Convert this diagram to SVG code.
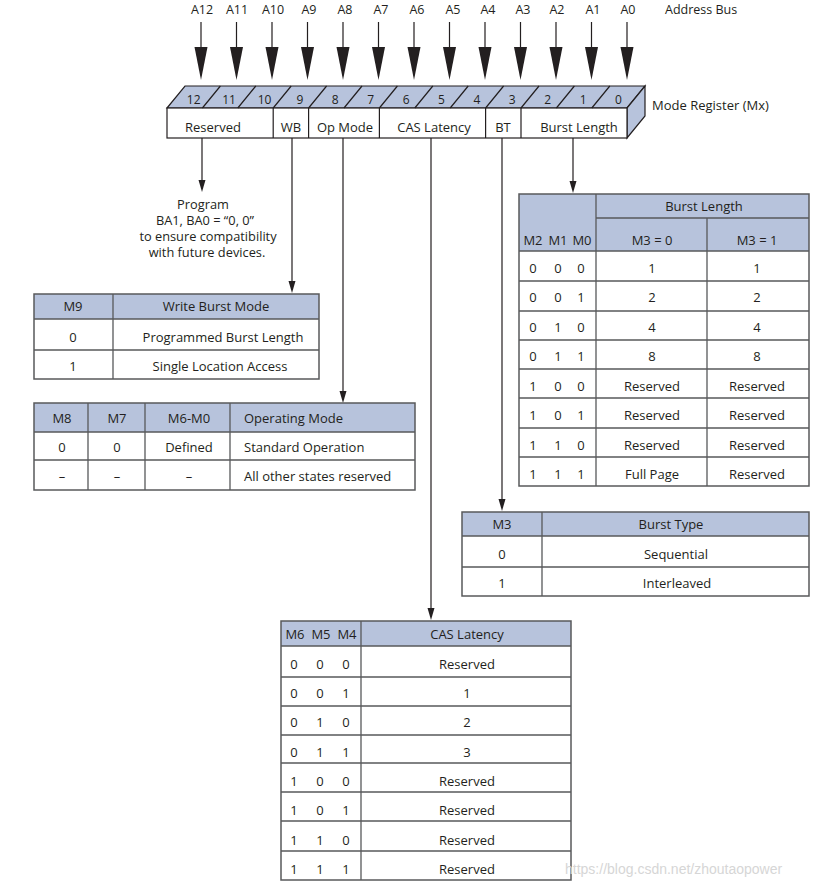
<svg xmlns="http://www.w3.org/2000/svg" width="815" height="889" viewBox="0 0 815 889">
<style>
text{font-family:"Open Sans","Noto Sans",sans-serif;font-size:13px;fill:#231f20}
.c{text-anchor:middle}
.hdr{fill:#b7c3dc;stroke:none}
.box{fill:none;stroke:#58595b;stroke-width:1.5}
.ln{stroke:#58595b;stroke-width:1.3}
.con{stroke:#231f20;stroke-width:1.2;fill:none}
.ah{fill:#231f20}
.reg{stroke:#231f20;stroke-width:1.2}
.bit{font-size:12px}
.bus{font-size:12.5px}
.note{font-size:12.8px}
.wm{font-family:"Liberation Sans",Arial,sans-serif;font-size:14px;fill:#d6d6d6}
</style>
<rect width="815" height="889" fill="#fff"/>

<g id="address-bus">
  <text x="202" y="13.5" class="c bus">A12</text>
  <text x="237" y="13.5" class="c bus">A11</text>
  <text x="273" y="13.5" class="c bus">A10</text>
  <text x="309" y="13.5" class="c bus">A9</text>
  <text x="345" y="13.5" class="c bus">A8</text>
  <text x="381" y="13.5" class="c bus">A7</text>
  <text x="417" y="13.5" class="c bus">A6</text>
  <text x="453" y="13.5" class="c bus">A5</text>
  <text x="488" y="13.5" class="c bus">A4</text>
  <text x="523" y="13.5" class="c bus">A3</text>
  <text x="557" y="13.5" class="c bus">A2</text>
  <text x="593" y="13.5" class="c bus">A1</text>
  <text x="628" y="13.5" class="c bus">A0</text>
  <text x="665" y="13.5" class="bus">Address Bus</text>
</g>

<g id="bus-arrows">
  <g class="con">
    <path d="M201 22V48M236.5 22V48M272 22V48M307.5 22V48M343 22V48M378.5 22V48M414 22V48M449.5 22V48M485 22V48M520.5 22V48M556 22V48M591.5 22V48M627 22V48"/>
  </g>
  <g class="ah">
    <polygon points="194.5,47 207.5,47 201,80"/>
    <polygon points="230,47 243,47 236.5,80"/>
    <polygon points="265.5,47 278.5,47 272,80"/>
    <polygon points="301,47 314,47 307.5,80"/>
    <polygon points="336.5,47 349.5,47 343,80"/>
    <polygon points="372,47 385,47 378.5,80"/>
    <polygon points="407.5,47 420.5,47 414,80"/>
    <polygon points="443,47 456,47 449.5,80"/>
    <polygon points="478.5,47 491.5,47 485,80"/>
    <polygon points="514,47 527,47 520.5,80"/>
    <polygon points="549.5,47 562.5,47 556,80"/>
    <polygon points="585,47 598,47 591.5,80"/>
    <polygon points="620.5,47 633.5,47 627,80"/>
  </g>
</g>

<g id="mode-register">
  <polygon points="167,108 185,86 645,86 627,108" fill="#b7c3dc" class="reg"/>
  <polygon points="627,108 645,86 645,116 627,138" fill="#b7c3dc" class="reg"/>
  <rect x="167" y="108" width="460" height="30" fill="#fff" class="reg"/>
  <path class="reg" d="M202.4 108l18 -22M237.8 108l18 -22M273.2 108l18 -22M308.6 108l18 -22M344 108l18 -22M379.4 108l18 -22M414.8 108l18 -22M450.2 108l18 -22M485.6 108l18 -22M521 108l18 -22M556.4 108l18 -22M591.8 108l18 -22"/>
  <path class="reg" d="M273.2 108V138M308.6 108V138M379.4 108V138M485.6 108V138M521 108V138"/>
  <text x="193.7" y="103.5" class="c bit">12</text>
  <text x="229.1" y="103.5" class="c bit">11</text>
  <text x="264.5" y="103.5" class="c bit">10</text>
  <text x="299.9" y="103.5" class="c bit">9</text>
  <text x="335.3" y="103.5" class="c bit">8</text>
  <text x="370.7" y="103.5" class="c bit">7</text>
  <text x="406.1" y="103.5" class="c bit">6</text>
  <text x="441.5" y="103.5" class="c bit">5</text>
  <text x="476.9" y="103.5" class="c bit">4</text>
  <text x="512.3" y="103.5" class="c bit">3</text>
  <text x="547.7" y="103.5" class="c bit">2</text>
  <text x="583.1" y="103.5" class="c bit">1</text>
  <text x="618.5" y="103.5" class="c bit">0</text>
  <text x="213" y="131.5" class="c">Reserved</text>
  <text x="291" y="131.5" class="c">WB</text>
  <text x="345" y="131.5" class="c">Op Mode</text>
  <text x="434" y="131.5" class="c">CAS Latency</text>
  <text x="503" y="131.5" class="c">BT</text>
  <text x="579" y="131.5" class="c">Burst Length</text>
  <text x="652" y="109.5">Mode Register (Mx)</text>
</g>

<g id="connectors">
  <path class="con" d="M202 138V181M292 138V282M343 138V392M431 138V609M502 138V499M573 138V182"/>
  <g class="ah">
    <polygon points="198.5,180 205.5,180 202,192"/>
    <polygon points="288.5,281 295.5,281 292,293"/>
    <polygon points="339.5,391 346.5,391 343,403"/>
    <polygon points="427.5,608 434.5,608 431,620"/>
    <polygon points="498.5,499 505.5,499 502,511"/>
    <polygon points="569.5,181 576.5,181 573,193"/>
  </g>
</g>

<g id="note-reserved">
  <text x="203" y="208.5" class="c note">Program</text>
  <text x="205" y="224.5" class="c note">BA1, BA0 = “0, 0”</text>
  <text x="208" y="240.5" class="c note">to ensure compatibility</text>
  <text x="207" y="256.5" class="c note">with future devices.</text>
</g>

<g id="table-write-burst">
  <rect x="34" y="294" width="285" height="25" class="hdr"/>
  <rect x="34" y="294" width="285" height="85" class="box"/>
  <path class="ln" d="M34 319H319M34 350H319M113 294V379"/>
  <text x="73" y="311" class="c">M9</text>
  <text x="216" y="311" class="c">Write Burst Mode</text>
  <text x="73" y="341.5" class="c">0</text>
  <text x="223" y="341.5" class="c">Programmed Burst Length</text>
  <text x="73" y="370.5" class="c">1</text>
  <text x="220" y="370.5" class="c">Single Location Access</text>
</g>

<g id="table-op-mode">
  <rect x="34" y="403" width="381" height="29" class="hdr"/>
  <rect x="34" y="403" width="381" height="87" class="box"/>
  <path class="ln" d="M34 432H415M34 460H415M88 403V490M145 403V490M230 403V490"/>
  <text x="62" y="422.5" class="c">M8</text>
  <text x="117" y="422.5" class="c">M7</text>
  <text x="189" y="422.5" class="c">M6-M0</text>
  <text x="244" y="422.5">Operating Mode</text>
  <text x="62" y="451.5" class="c">0</text>
  <text x="117" y="451.5" class="c">0</text>
  <text x="189" y="451.5" class="c">Defined</text>
  <text x="244" y="451.5">Standard Operation</text>
  <text x="62" y="480.5" class="c">–</text>
  <text x="117" y="480.5" class="c">–</text>
  <text x="189" y="480.5" class="c">–</text>
  <text x="244" y="480.5">All other states reserved</text>
</g>

<g id="table-burst-length">
  <rect x="519" y="194" width="290" height="57" class="hdr"/>
  <rect x="519" y="194" width="290" height="292" class="box"/>
  <path class="ln" d="M596 218H809M519 251H809M519 281H809M519 311H809M519 340H809M519 369H809M519 398H809M519 428H809M519 457H809M596 194V486M707 218V486"/>
  <text x="704" y="210.5" class="c">Burst Length</text>
  <text x="533" y="244.5" class="c">M2</text>
  <text x="558" y="244.5" class="c">M1</text>
  <text x="582" y="244.5" class="c">M0</text>
  <text x="652" y="244.5" class="c">M3 = 0</text>
  <text x="757" y="244.5" class="c">M3 = 1</text>
  <text x="533" y="272.5" class="c">0</text><text x="558" y="272.5" class="c">0</text><text x="581" y="272.5" class="c">0</text><text x="652" y="272.5" class="c">1</text><text x="757" y="272.5" class="c">1</text>
  <text x="533" y="302" class="c">0</text><text x="558" y="302" class="c">0</text><text x="581" y="302" class="c">1</text><text x="652" y="302" class="c">2</text><text x="757" y="302" class="c">2</text>
  <text x="533" y="331.5" class="c">0</text><text x="558" y="331.5" class="c">1</text><text x="581" y="331.5" class="c">0</text><text x="652" y="331.5" class="c">4</text><text x="757" y="331.5" class="c">4</text>
  <text x="533" y="361" class="c">0</text><text x="558" y="361" class="c">1</text><text x="581" y="361" class="c">1</text><text x="652" y="361" class="c">8</text><text x="757" y="361" class="c">8</text>
  <text x="533" y="390.5" class="c">1</text><text x="558" y="390.5" class="c">0</text><text x="581" y="390.5" class="c">0</text><text x="652" y="390.5" class="c">Reserved</text><text x="757" y="390.5" class="c">Reserved</text>
  <text x="533" y="419.5" class="c">1</text><text x="558" y="419.5" class="c">0</text><text x="581" y="419.5" class="c">1</text><text x="652" y="419.5" class="c">Reserved</text><text x="757" y="419.5" class="c">Reserved</text>
  <text x="533" y="449.5" class="c">1</text><text x="558" y="449.5" class="c">1</text><text x="581" y="449.5" class="c">0</text><text x="652" y="449.5" class="c">Reserved</text><text x="757" y="449.5" class="c">Reserved</text>
  <text x="533" y="478.5" class="c">1</text><text x="558" y="478.5" class="c">1</text><text x="581" y="478.5" class="c">1</text><text x="652" y="478.5" class="c">Full Page</text><text x="757" y="478.5" class="c">Reserved</text>
</g>

<g id="table-burst-type">
  <rect x="462" y="512" width="347" height="24" class="hdr"/>
  <rect x="462" y="512" width="347" height="84" class="box"/>
  <path class="ln" d="M462 536H809M462 567H809M542 512V596"/>
  <text x="502" y="528.5" class="c">M3</text>
  <text x="671" y="528.5" class="c">Burst Type</text>
  <text x="502" y="558.5" class="c">0</text>
  <text x="676" y="558.5" class="c">Sequential</text>
  <text x="502" y="587.5" class="c">1</text>
  <text x="677" y="587.5" class="c">Interleaved</text>
</g>

<g id="table-cas-latency">
  <rect x="281" y="621" width="290" height="25" class="hdr"/>
  <rect x="281" y="621" width="290" height="259" class="box"/>
  <path class="ln" d="M281 646H571M281 677H571M281 706H571M281 735H571M281 763H571M281 792H571M281 821H571M281 851H571M361 621V880"/>
  <text x="295" y="638.5" class="c">M6</text>
  <text x="321" y="638.5" class="c">M5</text>
  <text x="347" y="638.5" class="c">M4</text>
  <text x="467" y="638.5" class="c">CAS Latency</text>
  <text x="294" y="668.5" class="c">0</text><text x="320" y="668.5" class="c">0</text><text x="346" y="668.5" class="c">0</text><text x="467" y="668.5" class="c">Reserved</text>
  <text x="294" y="697.5" class="c">0</text><text x="320" y="697.5" class="c">0</text><text x="346" y="697.5" class="c">1</text><text x="467" y="697.5" class="c">1</text>
  <text x="294" y="726.5" class="c">0</text><text x="320" y="726.5" class="c">1</text><text x="346" y="726.5" class="c">0</text><text x="467" y="726.5" class="c">2</text>
  <text x="294" y="756.5" class="c">0</text><text x="320" y="756.5" class="c">1</text><text x="346" y="756.5" class="c">1</text><text x="467" y="756.5" class="c">3</text>
  <text x="294" y="785.5" class="c">1</text><text x="320" y="785.5" class="c">0</text><text x="346" y="785.5" class="c">0</text><text x="467" y="785.5" class="c">Reserved</text>
  <text x="294" y="814.5" class="c">1</text><text x="320" y="814.5" class="c">0</text><text x="346" y="814.5" class="c">1</text><text x="467" y="814.5" class="c">Reserved</text>
  <text x="294" y="844.5" class="c">1</text><text x="320" y="844.5" class="c">1</text><text x="346" y="844.5" class="c">0</text><text x="467" y="844.5" class="c">Reserved</text>
  <text x="294" y="873.5" class="c">1</text><text x="320" y="873.5" class="c">1</text><text x="346" y="873.5" class="c">1</text><text x="467" y="873.5" class="c">Reserved</text>
</g>

<text x="565" y="874" class="wm">https://blog.csdn.net/zhoutaopower</text>
</svg>
